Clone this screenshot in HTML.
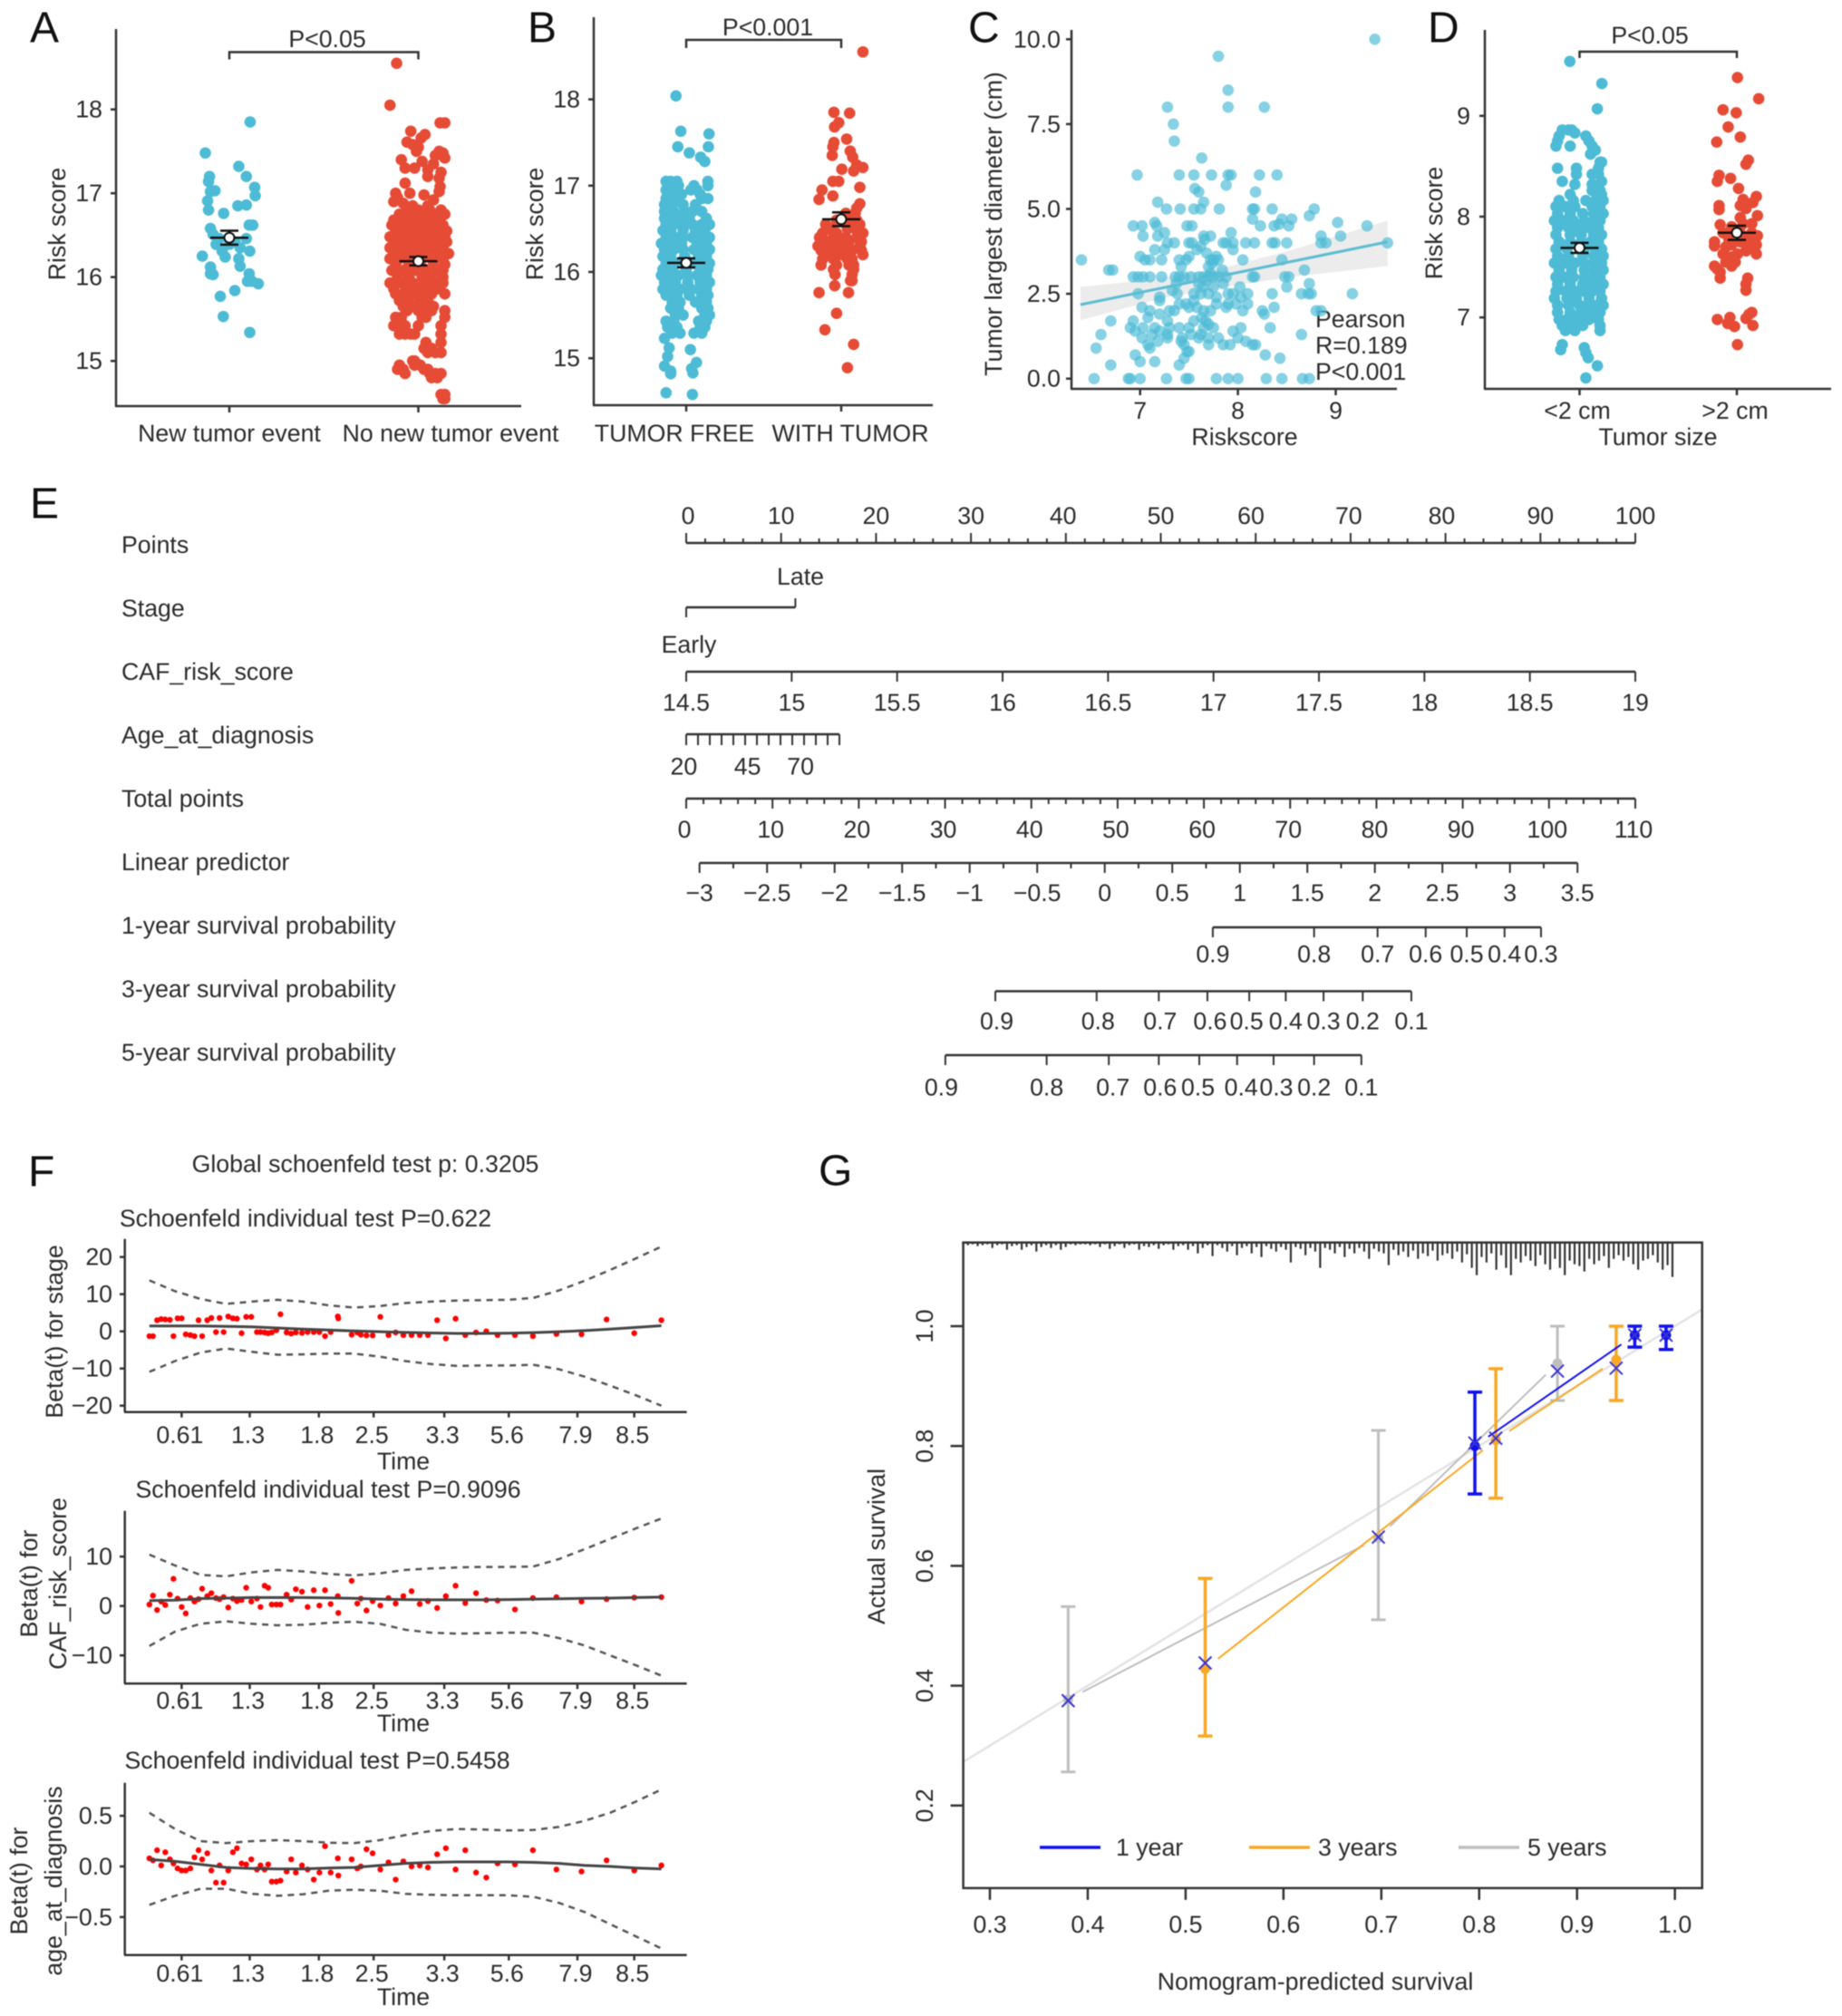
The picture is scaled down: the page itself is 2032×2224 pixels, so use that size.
<!DOCTYPE html>
<html lang="en">
<head>
<meta charset="utf-8">
<title>Risk score figure panels A-G</title>
<style>
html,body{margin:0;padding:0;background:#fff;}
#figure{display:block;width:2032px;height:2224px;filter:blur(0.55px);}
text{font-family:"Liberation Sans",Arial,sans-serif;font-size:26.7px;fill:#2b2b2b;dominant-baseline:central;text-rendering:geometricPrecision;}
.mid{text-anchor:middle;}
.end{text-anchor:end;}
.panel{font-size:48px;fill:#111;}
</style>
</head>
<body>
<svg id="figure" width="2032" height="2224" viewBox="0 0 2032 2224">
<rect x="0" y="0" width="2032" height="2224" fill="#fff"/>
<text class="panel" x="33" y="31">A</text>
<text class="panel" x="582" y="31">B</text>
<text class="panel" x="1068" y="31">C</text>
<text class="panel" x="1575" y="31">D</text>
<text class="panel" x="33" y="556">E</text>
<text class="panel" x="31" y="1293">F</text>
<text class="panel" x="903" y="1292">G</text>

<text class="mid" transform="rotate(-90 63 247)" x="63" y="247">Risk score</text>
<text class="mid" x="361" y="43">P&lt;0.05</text>
<text class="mid" x="253" y="478">New tumor event</text>
<text class="mid" x="497" y="478">No new tumor event</text>

<text class="mid" transform="rotate(-90 590 247)" x="590" y="247">Risk score</text>
<text class="mid" x="847" y="30">P&lt;0.001</text>
<text class="mid" x="744" y="478">TUMOR FREE</text>
<text class="mid" x="938" y="478">WITH TUMOR</text>

<text class="mid" transform="rotate(-90 1096 247)" x="1096" y="247">Tumor largest diameter (cm)</text>
<text class="mid" x="1373" y="482">Riskscore</text>
<text x="1451" y="352">Pearson</text>
<text x="1451" y="381">R=0.189</text>
<text x="1451" y="410">P&lt;0.001</text>

<text class="mid" transform="rotate(-90 1582 246)" x="1582" y="246">Risk score</text>
<text class="mid" x="1820" y="39">P&lt;0.05</text>
<text class="mid" x="1740" y="453">&lt;2 cm</text>
<text class="mid" x="1914" y="453">&gt;2 cm</text>
<text class="mid" x="1829" y="482">Tumor size</text>

<text x="134" y="601">Points</text>
<text x="134" y="671">Stage</text>
<text x="134" y="741">CAF_risk_score</text>
<text x="134" y="811">Age_at_diagnosis</text>
<text x="134" y="881">Total points</text>
<text x="134" y="951">Linear predictor</text>
<text x="134" y="1021">1-year survival probability</text>
<text x="134" y="1091">3-year survival probability</text>
<text x="134" y="1161">5-year survival probability</text>
<text class="mid" x="883" y="636">Late</text>
<text class="mid" x="760" y="711">Early</text>

<text class="mid" x="403" y="1284">Global schoenfeld test p: 0.3205</text>
<text class="mid" x="337" y="1344">Schoenfeld individual test P=0.622</text>
<text class="mid" x="362" y="1643">Schoenfeld individual test P=0.9096</text>
<text class="mid" x="350" y="1942">Schoenfeld individual test P=0.5458</text>
<text class="mid" x="445" y="1612">Time</text>
<text class="mid" x="445" y="1901">Time</text>
<text class="mid" x="445" y="2203">Time</text>
<text class="mid" transform="rotate(-90 60 1469)" x="60" y="1469">Beta(t) for stage</text>
<text class="mid" transform="rotate(-90 32 1747)" x="32" y="1747">Beta(t) for</text>
<text class="mid" transform="rotate(-90 64 1747)" x="64" y="1747">CAF_risk_score</text>
<text class="mid" transform="rotate(-90 21 2075)" x="21" y="2075">Beta(t) for</text>
<text class="mid" transform="rotate(-90 59 2075)" x="59" y="2075">age_at_diagnosis</text>

<text class="mid" transform="rotate(-90 967 1706)" x="967" y="1706">Actual survival</text>
<text class="mid" x="1451" y="2186">Nomogram-predicted survival</text>
<text x="1231" y="2038">1 year</text>
<text x="1454" y="2038">3 years</text>
<text x="1685" y="2038">5 years</text>
<g id="marks"></g>
</svg>

<script>
const BLUE='#4DBBD5', RED='#E64B35', INK='#333333';

/* ---------- Panel A data ---------- */
const aNewValues=[17.85,17.48,17.32,17.2,17.14,17.2,17.07,17.03,17.02,16.97,
16.91,16.86,16.85,16.8,16.76,16.58,16.62,16.62,16.51,16.46,
16.46,16.35,16.31,16.25,16.24,16.22,16.13,16.12,16.04,16.03,
16.04,15.95,15.95,15.92,15.84,15.77,15.53,15.34,16.39,16.39,16.42,16.31];
const aNewJitter=[.11,-.127,.05,-.105,-.11,.09,.134,-.076,-.1,.137,
-.115,.09,.045,-.11,-.03,-.1,.124,.105,-.086,-.054,
.09,.057,.108,-.143,-.022,.05,.057,-.1,-.1,-.086,
.105,.12,.096,.153,.029,-.048,-.032,.108,0,-.07,.03,-.038];
const aNoValues=[18.55,18.05,17.84,17.84,17.74,17.7,17.66,17.61,17.58,17.55,
17.5,17.5,17.48,17.45,17.42,17.4,17.38,17.35,17.3,17.3,
17.28,17.25,17.2,17.18,17.12,17.08,17.02,17.0,17.0,16.98,
16.95,16.92,16.9,16.88,16.85,16.85,
16.8,16.8,16.8,16.8,
16.75,16.75,16.75,16.75,16.75,
16.68,16.68,16.68,16.68,16.68,
16.62,16.62,16.62,16.62,16.62,16.62,
16.55,16.55,16.55,16.55,16.55,16.55,
16.48,16.48,16.48,16.48,16.48,16.48,
16.42,16.42,16.42,16.42,16.42,16.42,
16.35,16.35,16.35,16.35,16.35,16.35,
16.28,16.28,16.28,16.28,16.28,16.28,
16.22,16.22,16.22,16.22,16.22,16.22,
16.15,16.15,16.15,16.15,16.15,
16.08,16.08,16.08,16.08,16.08,16.08,
16.0,16.0,16.0,16.0,16.0,
15.93,15.93,15.93,15.93,15.93,15.93,
15.86,15.86,15.86,15.86,15.86,
15.8,15.8,15.8,15.8,15.8,15.8,
15.72,15.72,15.72,15.72,
15.65,15.65,15.65,15.65,
15.6,15.6,15.6,15.6,
15.52,15.52,15.52,15.52,15.52,
15.42,15.42,15.42,15.42,15.42,
15.32,15.32,15.32,15.32,15.32,
15.22,15.22,15.15,15.15,15.1,15.1,15.1,15.0,15.0,
14.95,14.95,14.95,14.9,14.9,14.9,14.9,
14.85,14.85,14.85,14.85,14.8,14.8,14.6,14.6,14.55,14.55];
const aNoJitter=[-.115,-.15,.14,.115,-.04,.035,.015,-.06,-.03,0,
-.01,.11,.13,.09,.14,-.09,.02,.08,-.07,-.02,
.05,.12,.05,.11,-.07,.115,.11,-.12,-.045,.03,
-.11,.08,-.13,-.08,-.03,.05,
-.06,0,.06,.12,
-.1,-.03,.03,.09,.14,
-.13,-.07,-.01,.05,.11,
-.14,-.09,-.04,.02,.08,.13,
-.12,-.06,0,.06,.11,.15,
-.15,-.1,-.03,.03,.09,.14,
-.12,-.06,-.01,.05,.1,.15,
-.15,-.09,-.03,.03,.08,.13,
-.13,-.07,-.01,.06,.11,.16,
-.15,-.1,-.04,.02,.07,.13,
-.12,-.05,.01,.08,.14,
-.14,-.08,-.02,.04,.1,.13,
-.11,-.05,.02,.07,.13,
-.15,-.09,-.03,.03,.09,.13,
-.13,-.06,0,.06,.1,
-.12,-.08,-.03,.03,.07,.14,
-.1,-.05,.01,.05,
-.08,-.03,.03,.08,
0,-.06,.14,.07,
-.12,-.09,.04,.02,.14,
-.13,-.1,-.07,0,.12,
-.1,-.07,-.04,-.02,.12,
.12,.04,.03,.07,.05,.12,.09,-.03,-.02,
-.1,-.02,.01,-.11,-.08,.03,.05,
-.07,.06,.12,.09,.07,.1,.12,.14,.13,.14];
const aMeans=[16.47,16.19];
const aErrors=[.083,.05];
const aTicks=[15,16,17,18];

/* ---------- Panel B data ---------- */
const bFreeValues=[18.04,17.63,17.6,17.45,17.45,17.38,17.33,17.28,
17.05,17.05,17.05,17.05,
17.0,17.0,17.0,17.0,17.0,
16.95,16.95,16.95,16.95,
16.9,16.9,16.9,
16.85,16.85,16.85,16.85,
16.78,16.78,16.78,16.78,
16.7,16.7,16.7,16.7,16.7,
16.62,16.62,16.62,16.62,16.62,
16.55,16.55,16.55,16.55,16.55,16.55,
16.48,16.48,16.48,16.48,16.48,
16.4,16.4,16.4,16.4,16.4,16.4,
16.33,16.33,16.33,16.33,16.33,
16.26,16.26,16.26,16.26,16.26,16.26,
16.18,16.18,16.18,16.18,16.18,
16.1,16.1,16.1,16.1,16.1,16.1,
16.03,16.03,16.03,16.03,16.03,
15.96,15.96,15.96,15.96,15.96,15.96,
15.88,15.88,15.88,15.88,15.88,
15.8,15.8,15.8,15.8,15.8,15.8,
15.73,15.73,15.73,15.73,15.73,
15.65,15.65,15.65,15.65,
15.58,15.58,15.58,15.58,
15.5,15.5,15.5,15.5,
15.43,15.43,15.43,15.43,
15.36,15.36,15.36,15.36,
15.29,15.29,15.29,15.29,
15.23,15.12,15.1,15.02,14.95,14.91,14.88,14.85,14.83,14.82,14.6,14.58];
const bFreeJitter=[-.066,-.035,.147,-.054,.143,.02,.093,.12,
-.13,-.1,-.06,.14,
-.12,-.09,-.05,.05,.14,
-.13,-.08,.03,.07,
-.12,-.03,.09,
-.13,-.06,.1,.14,
-.14,-.09,-.02,.06,
-.14,-.08,-.01,.04,.1,
-.14,-.09,-.04,.02,.13,
-.13,-.08,-.02,.04,.1,.15,
-.15,-.1,-.02,.06,.12,
-.13,-.07,-.02,.04,.09,.15,
-.16,-.1,-.03,.07,.13,
-.14,-.08,-.02,.05,.11,.15,
-.15,-.1,-.01,.08,.13,
-.13,-.07,-.01,.05,.1,.15,
-.15,-.09,.0,.09,.14,
-.16,-.11,-.05,.01,.07,.13,
-.14,-.07,.01,.09,.15,
-.15,-.1,-.04,.03,.08,.13,
-.13,-.06,.02,.1,.14,
-.09,-.04,.06,.13,
-.1,-.05,.1,.14,
-.07,-.02,.12,.15,
-.13,-.08,.08,.13,
-.12,-.06,.09,.12,
-.09,-.04,.05,.1,
-.14,-.11,.027,-.12,.066,-.14,.035,-.1,.043,-.1,-.13,.04];
const bWithValues=[18.55,17.85,17.84,17.73,17.68,17.54,17.5,17.45,17.4,17.35,
17.33,17.24,17.21,17.17,17.19,17.05,17.05,16.98,16.95,16.84,
16.88,16.79,16.74,
16.68,16.68,
16.6,16.6,16.6,16.58,
16.55,16.55,
16.5,16.5,16.5,
16.45,16.45,16.45,
16.4,16.4,16.4,16.4,
16.35,16.35,16.35,16.35,16.35,
16.3,16.3,16.3,16.3,16.3,
16.25,16.25,16.25,16.25,16.25,
16.2,16.2,16.2,16.2,
16.15,16.15,16.15,16.15,
16.08,16.08,16.08,16.08,
16.03,16.03,15.97,15.97,15.9,15.9,
15.84,15.76,15.76,15.52,15.33,15.16,14.89];
const bWithJitter=[.14,-.047,.054,-.016,-.043,.035,-.047,-.054,.058,-.058,
.074,.1,.14,.08,.004,-.054,-.016,.12,-.124,-.143,
-.054,.12,.1,
.03,.09,
-.03,.06,.1,.01,
-.1,.12,
-.07,.04,.09,
.14,-.12,-.03,
-.05,.03,.1,-.14,
-.12,-.08,0,.05,.13,
-.15,-.1,-.03,.03,.12,
-.13,-.07,.07,.13,-.02,
-.09,0,.05,.14,
-.12,-.05,.04,.07,
-.13,-.03,.05,.08,
-.05,.08,-.04,.07,.07,.06,
-.042,-.143,.047,-.03,-.105,.08,.04];
const bMeans=[16.105,16.61];
const bErrors=[.052,.08];
const bTicks=[15,16,17,18];

/* ---------- Panel C data ---------- */
const cRiskscore=[9.4,7.8,7.9,7.28,7.9,8.27,7.34,7.35,7.63,6.97,7.4,7.55,7.73,7.9,7.93,8.22,8.4,7.88,7.56,7.6,8.18,7.65,7.62,7.18,7.27,7.41,7.55,7.81,8.15,8.17,8.35,8.78,8.73,8.15,8.45,8.55,
6.93,7.02,7.15,7.17,7.48,7.53,8.23,8.37,8.42,8.52,9.02,9.32,
7.03,7.18,7.25,7.65,7.72,7.93,8.85,9.05,
7.28,7.35,7.5,7.53,7.85,7.88,7.95,8.08,8.17,8.35,8.38,8.5,8.85,8.9,9.53,
7,7.05,7.1,7.15,7.22,7.25,7.4,7.5,7.68,7.72,7.75,7.8,7.95,8.05,8.45,6.4,
6.72,6.68,6.93,6.98,7.03,7.1,7.22,7.36,7.4,7.45,7.52,7.6,7.65,7.7,7.75,7.8,7.88,8.15,8.17,8.48,8.52,8.68,
6.98,7.2,7.38,7.55,7.62,7.7,7.78,7.9,7.95,8.03,8.1,8.35,8.65,8.72,8.75,8.73,9.17,8.5,
7.02,7.1,7.2,7.3,7.35,7.4,7.5,7.65,7.72,7.78,8.05,8.25,8.37,8.8,8.85,8.27,
6.7,6.9,6.93,7.03,7.15,7.2,7.3,7.4,7.5,7.65,7.75,7.95,8.03,8.33,
7.02,7.08,7.1,7.28,7.43,7.45,7.5,7.6,7.7,7.7,7.85,7.92,8.0,8.15,8.18,8.08,8.65,6.6,6.55,
6.95,7.0,7.15,7.4,7.45,7.48,6.7,8.28,8.43,
6.53,6.88,6.9,7.0,7.27,7.47,7.5,7.78,7.9,8.0,8.29,8.45,8.66,8.73,
7.42,7.47,7.58,7.62,7.66,7.7,7.74,7.78,7.84,7.6,7.64,7.68,7.72,7.55,7.47,7.37,7.33,7.58,7.63,7.67,
7.75,7.85,7.9,7.98,8.02,8.1,7.52,7.42,7.28,7.2,7.12,7.18,7.08,6.95,7.55,7.62,7.7,7.8,7.88,7.28];
const cDiameter=[10,9.5,8.5,8,8,8,7.5,7,6.5,6,6,6,6,6,6,6,6,5.7,5.6,5.5,5.5,5.2,5,5.2,5,5,5,5,5,5,5,5,4.8,4.7,4.7,4.7,
4.5,4.5,4.6,4.5,4.5,4.5,4.5,4.5,4.55,4.5,4.6,4.5,
4.2,4.2,4.3,4.2,4.2,4.3,4.2,4.2,
4,4,4,4,4,4,4,4,4,4,4,4,4,4,4,
3.6,3.5,3.5,3.8,3.5,3.8,3.5,3.6,3.7,3.5,3.5,3.5,3.8,3.5,3.5,3.5,
3.2,3.2,3,3,3,3,3,3,3,3,3,3,3,3,3,3,3,3,3,3,3,3.2,
2.5,2.4,2.5,2.5,2.5,2.5,2.4,2.5,2.5,2.4,2.5,2.5,2.5,2.5,2.5,2.8,2.5,2.7,
2.1,2,1.9,2,2,2.2,2.1,2,2,2.2,2,2,2.1,2,2,1.9,
1.7,1.5,1.7,1.5,1.5,1.4,1.5,1.5,1.5,1.5,1.5,1.4,1.5,1.5,
1.2,1,.9,1.2,1.2,1,.8,1.2,1,1.2,1,1,1.2,1,1,1.1,1.3,1.3,.9,
.7,.5,.5,.4,.6,.8,.4,.7,.6,
0,0,0,0,0,0,0,0,0,0,0,0,0,0,
3.3,3.5,3.8,3.9,4.1,3.3,3.4,3.6,3.2,2.8,2.7,2.9,3.1,2.3,2.2,2.8,2.6,2.1,1.8,1.7,
2.7,2.8,2.2,2.2,2.7,2.2,1.3,1.1,1.7,2.3,1.3,1.1,1.8,1.4,1.7,1.3,1.6,1.2,2.1,1.3];
const cFitX=[6.39,9.53];
const cFitY=[2.18,4.03];
const cBandX=[6.39,7.2,7.9,8.5,9.53];
const cBandUpper=[2.7,2.95,3.3,3.75,4.66];
const cBandLower=[1.72,2.35,2.72,2.98,3.32];
const cYTicks=[0,2.5,5,7.5,10];
const cYLabels=['0.0','2.5','5.0','7.5','10.0'];
const cXTicks=[7,8,9];

/* ---------- Panel D data ---------- */
const dSmallValues=[9.54,9.32,9.07,8.86,8.86,8.86,8.83,8.8,8.8,8.75,8.75,8.7,8.7,8.7,8.66,8.66,8.62,8.54,8.54,
8.48,8.48,8.48,8.42,8.42,8.42,8.35,8.35,8.32,8.32,8.26,8.26,8.22,8.22,
8.16,8.16,8.16,8.16,8.16,
8.1,8.1,8.1,8.1,8.1,
8.03,8.03,8.03,8.03,8.03,
7.96,7.96,7.96,7.96,7.96,7.96,
7.89,7.89,7.89,7.89,7.89,
7.82,7.82,7.82,7.82,7.82,
7.75,7.75,7.75,7.75,7.75,
7.68,7.68,7.68,7.68,7.68,
7.61,7.61,7.61,7.61,7.61,
7.54,7.54,7.54,7.54,7.54,7.54,
7.47,7.47,7.47,7.47,7.47,
7.4,7.4,7.4,7.4,7.4,7.4,
7.33,7.33,7.33,7.33,7.33,
7.26,7.26,7.26,7.26,7.26,7.26,
7.19,7.19,7.19,7.19,7.19,
7.12,7.12,7.12,7.12,7.12,7.12,
7.05,7.05,7.05,7.05,7.05,
6.98,6.98,6.98,6.98,6.98,
6.92,6.92,6.92,6.92,
6.87,6.87,6.87,
6.73,6.68,6.7,6.65,6.6,6.52,6.4];
const dSmallJitter=[-.062,.142,.113,-.11,-.07,-.05,-.03,.04,-.13,.06,-.14,-.06,-.15,.08,.09,.1,.07,.13,.14,
.12,-.14,-.02,-.02,.08,.12,-.11,.14,-.03,.08,.08,.13,-.06,.14,
-.13,-.04,.04,.1,.15,
-.15,-.09,-.03,.08,.13,
-.14,-.06,.02,.09,.15,
-.16,-.1,-.04,.03,.09,.13,
-.14,-.07,-.01,.06,.12,
-.15,-.06,.01,.09,.14,
-.13,-.06,.01,.07,.12,
-.15,-.08,.03,.1,.14,
-.14,-.07,.02,.09,.15,
-.16,-.09,-.03,.03,.09,.14,
-.13,-.05,.03,.09,.15,
-.15,-.1,-.04,.03,.09,.13,
-.14,-.06,.02,.08,.15,
-.15,-.09,-.03,.03,.08,.13,
-.16,-.08,-.02,.06,.14,
-.14,-.07,0,.05,.11,.15,
-.14,-.06,.01,.08,.13,
-.13,-.08,-.01,.06,.12,
-.11,-.05,.02,.13,
-.09,-.03,.13,
-.11,-.12,.03,.04,.055,.113,.04];
const dLargeValues=[9.38,9.17,9.06,9.03,8.89,8.79,8.74,8.56,8.52,8.41,
8.35,8.38,8.28,8.2,8.14,8.17,8.11,8.11,8.07,8.01,
8.08,7.99,7.92,7.9,7.93,7.71,7.75,7.84,7.81,7.84,
7.78,7.75,7.72,7.72,7.63,7.66,7.6,7.63,7.63,7.51,
7.48,7.51,7.45,7.39,7.39,7.33,7.27,6.98,7.0,6.94,
6.91,7.03,7.05,6.99,6.92,6.73,7.93,7.78,7.72,7.7,
7.84,7.68,7.55,7.55];
const dLargeJitter=[.004,.139,-.088,-.004,-.055,.022,-.128,.073,.058,-.113,
-.124,-.04,.011,.124,.102,.04,.022,-.113,-.113,.131,
.058,.022,-.106,-.033,.04,-.142,-.142,.095,.131,-.088,
-.051,.022,.058,.124,.124,.058,-.033,.004,-.088,-.142,
-.124,-.033,-.106,-.106,.069,.058,.058,-.124,-.044,-.058,
-.015,.077,.095,.058,.102,.004,.095,.077,-.033,-.07,
.022,.1,-.01,-.07];
const dMeans=[7.69,7.84];
const dErrors=[.05,.07];
const dTicks=[7,8,9];

/* ---------- Panel E data ---------- */
const pointsMajor=[0,10,20,30,40,50,60,70,80,90,100];
const pointsLabelAnchor=[0.2,10,20,30,39.7,50,59.5,69.8,79.6,90,100];
const stagePoints=[0,11.5];
const cafTicks=[14.5,15,15.5,16,16.5,17,17.5,18,18.5,19];
const ageTicks=[20,25,30,35,40,45,50,55,60,65,70,75,80,85];
const ageLabels=[20,45,70];
const ageLabelAnchor=[19,46,68.5];
const totalMajor=[0,10,20,30,40,50,60,70,80,90,100,110];
const lpMajor=[-3,-2.5,-2,-1.5,-1,-0.5,0,0.5,1,1.5,2,2.5,3,3.5];
const surv1Probs=['0.9','0.8','0.7','0.6','0.5','0.4','0.3'];
const surv1Lp=[0.80,1.55,2.02,2.376,2.68,2.96,3.23];
const surv3Probs=['0.9','0.8','0.7','0.6','0.5','0.4','0.3','0.2','0.1'];
const surv3Lp=[-0.81,-0.06,0.40,0.76,1.07,1.34,1.62,1.91,2.27];
const surv3LabelLp=[-0.80,-0.05,0.41,0.78,1.05,1.34,1.62,1.91,2.27];
const surv5Probs=['0.9','0.8','0.7','0.6','0.5','0.4','0.3','0.2','0.1'];
const surv5Lp=[-1.18,-0.43,0.03,0.40,0.70,0.98,1.25,1.55,1.90];
const surv5LabelLp=[-1.21,-0.43,0.06,0.41,0.69,1.01,1.27,1.55,1.90];

/* ---------- Panel F data ---------- */
const timeTickRanks=[6.3,19.6,33.1,43.8,57.6,70.2,83.6,94.7];
const timeTickLabels=['0.61','1.3','1.8','2.5','3.3','5.6','7.9','8.5'];
const eventRanks=[0,.7,1.5,2.3,3.1,4,4.7,5.5,6.3,7.1,
8,8.8,9.6,10.3,11.3,12.1,13,13.7,14.5,15.4,
16.3,17.1,18,18.9,19.9,21,21.7,22.5,23.2,23.9,
24.8,25.6,26.8,27.7,28.6,29.8,30.9,32.1,33.2,34.3,
35.4,36.8,36.9,39.5,40.6,41.3,42.4,43.6,45.1,46.7,
48.1,49.6,51.2,52.8,54.4,56.2,57.9,59.8,61.7,63.8,
65.8,68,71.4,74.9,79.5,84.4,89.3,94.7,100];
const stageResiduals=[-1.3,-1.3,3,3.3,3.2,3.1,-1.3,3.5,3.5,-.8,
-1,-1.3,3,-1.3,3,3.6,-.2,3.6,-.2,4,
3.5,3.4,-.5,3.9,3.9,-.2,-.2,-.3,-.5,-.3,
.3,4.6,-.3,-.6,-.3,-.4,-.2,-.2,-.2,-1.3,
-.2,4,3.5,-.9,-.3,-.9,-1.1,-1.1,3.9,-1,
-.3,-1,-1,-1,-1,3,-1.9,3.4,-1,-.3,
0,-1,-1,-1.3,-.7,-.8,3.2,-.5,3];
const cafResiduals=[.3,2.1,-.8,.9,.2,2.3,5.5,1.5,-.2,-1.5,
1.6,.9,1.4,3.5,2,2.6,1.6,1.4,1.8,-.3,
1.5,1,1.2,3.7,.9,1.5,-.2,4.1,3.7,.3,
.3,.3,2.3,1.3,3.4,2.9,-.2,3.2,.1,3.2,
.4,2,-1.4,5.1,.5,1.5,-.9,1,.1,1.6,
.5,2,3,.4,1,-.4,2,4.1,.6,2.6,
1.2,1.1,-.7,1.6,1.8,.9,1.4,1.7,1.8];
const ageResiduals=[.08,.06,.16,.01,.14,.07,.03,-.02,-.04,-.04,
-.02,.09,.16,.07,.13,-.04,-.16,.01,-.16,-.04,
.14,.18,.03,.02,.07,-.03,.01,-.03,.02,-.15,
-.15,-.14,-.05,.07,-.06,.01,-.03,-.13,-.06,.2,
-.06,.08,-.09,.07,-.02,0,.17,.13,-.03,.04,
-.13,.05,0,.01,-.01,.12,.18,-.03,.16,-.06,
-.11,.03,.02,.16,-.03,-.05,.06,-.04,.01];
const curveRanks=[0,5,10,15,20,25,30,35,40,45,50,55,60,65,70,75,80,85,90,95,100];
const stageFit=[1.45,1.45,1.45,1.35,1.2,.9,.6,.35,.1,-.1,-.3,-.45,-.55,-.55,-.5,-.35,-.1,.2,.6,1.05,1.5];
const stageUpper=[13.7,10.8,8.7,7.4,8,8.5,8,7,6.4,6.8,7.6,8,8.3,8.4,8.5,9,11,13.6,16.5,19.6,22.8];
const stageLower=[-10.9,-8,-5.7,-4.6,-5.5,-6.3,-6.2,-6,-6,-6.8,-8,-8.8,-9.3,-9.2,-9.2,-9,-10.2,-12.2,-14.6,-17.2,-20];
const cafFit=[1.1,1.2,1.5,1.6,1.7,1.7,1.7,1.65,1.55,1.4,1.3,1.25,1.25,1.25,1.3,1.4,1.45,1.55,1.6,1.7,1.8];
const cafUpper=[10.4,8.2,6.3,6,6.8,7.3,7,6.5,6.2,6.6,7.3,7.6,7.8,7.9,7.9,8,9.5,11.5,13.6,15.7,17.7];
const cafLower=[-8.1,-5.2,-3.6,-3.1,-3.6,-3.9,-3.8,-3.4,-3.2,-3.6,-4.8,-5.4,-5.6,-5.5,-5.4,-5.4,-6.5,-8,-10,-12,-14.1];
const ageFit=[.07,.05,.02,-.01,-.02,-.025,-.025,-.015,-.01,.01,.03,.04,.045,.045,.045,.04,.03,.01,0,-.015,-.025];
const ageUpper=[.53,.37,.25,.23,.25,.26,.25,.235,.23,.26,.31,.35,.37,.365,.355,.36,.39,.45,.53,.64,.76];
const ageLower=[-.38,-.29,-.22,-.22,-.27,-.29,-.275,-.24,-.23,-.24,-.27,-.28,-.285,-.285,-.285,-.3,-.36,-.45,-.57,-.69,-.81];
const stageYTicks=[-20,-10,0,10,20];
const cafYTicks=[-10,0,10];
const ageYTicks=[-0.5,0,0.5];
const ageYLabels=['\u22120.5','0.0','0.5'];

/* ---------- Panel G data ---------- */
const calXTicks=[.3,.4,.5,.6,.7,.8,.9,1];
const calXLabels=['0.3','0.4','0.5','0.6','0.7','0.8','0.9','1.0'];
const calYTicks=[.2,.4,.6,.8,1];
const calYLabels=['0.2','0.4','0.6','0.8','1.0'];
const year1Pred=[.7956,.959,.991];
const year1Obs=[.8,.985,.985];
const year1Low=[.72,.965,.961];
const year1High=[.89,1,1];
const year3Pred=[.52,.817,.94];
const year3Obs=[.428,.81,.944];
const year3Low=[.316,.713,.876];
const year3High=[.579,.929,1];
const year5Pred=[.38,.697,.88];
const year5Obs=[.377,.647,.938];
const year5Low=[.256,.51,.876];
const year5High=[.532,.826,1];
const correctedPred=[.38,.52,.697,.7956,.817,.88,.94,.959,.991];
const correctedObs=[.375,.438,.648,.805,.813,.925,.93,.985,.985];
const rugCounts=[2,3,2,4,3,2,6,3,2,8,4,3,8,5,3,10,5,3,6,3,8,5,2,3,2,2,
3,2,5,2,7,4,2,6,3,2,8,4,5,3,7,3,2,8,4,3,
8,4,12,6,3,15,3,6,10,4,14,6,4,12,5,16,4,7,10,5,
8,22,5,7,14,6,10,28,6,8,12,5,16,7,12,6,10,18,7,10,
12,25,8,14,10,16,9,18,12,15,9,20,14,12,18,10,22,13,28,36,
16,22,12,30,14,28,36,18,22,15,20,26,14,24,30,18,28,36,20,24,
26,32,18,24,20,15,28,18,14,20,16,24,30,20,18,14,22,30,25,38];

/* ---------- Drawing helpers ---------- */
const root=document.getElementById('marks');
const SVGNS=document.getElementById('figure').namespaceURI;

function make(tag,attrs,name){
  const el=document.createElementNS(SVGNS,tag);
  for(const k in attrs){ el.setAttribute(k,attrs[k]); }
  
  
  root.appendChild(el);
  return el;
}
function line(x1,y1,x2,y2,name,color,w){
  return make('line',{x1:x1,y1:y1,x2:x2,y2:y2,stroke:color||INK,'stroke-width':w||2.5},name);
}
function label(x,y,str,name,anchor,rot){
  const a={x:x,y:y,'text-anchor':anchor||'middle'};
  if(rot){ a.transform='rotate(-90 '+x+' '+y+')'; }
  const el=make('text',a,name);
  el.textContent=str;
  return el;
}
function dot(x,y,r,color,name,opacity){
  const a={cx:x,cy:y,r:r,fill:color};
  if(opacity){ a['fill-opacity']=opacity; }
  return make('circle',a,name);
}
function polyPath(xs,ys,xf,yf,name,color,w,dash){
  let d='';
  for(let i=0;i<xs.length;i++){ d+=(i?'L':'M')+xf(xs[i]).toFixed(1)+' '+yf(ys[i]).toFixed(1); }
  const a={d:d,fill:'none',stroke:color,'stroke-width':w,'stroke-linejoin':'round'};
  if(dash){ a['stroke-dasharray']=dash; }
  return make('path',a,name);
}

/* ---------- Strip panels ---------- */
function stripAxes(prefix,axisX,top,bottom,right,yf,ticks,tickLabelX){
  line(axisX,top,axisX,bottom,prefix+'-y-axis');
  line(axisX-1,bottom,right,bottom,prefix+'-x-axis');
  ticks.forEach(function(t){
    line(axisX-6,yf(t),axisX,yf(t),prefix+'-y-tick');
    label(tickLabelX,yf(t),String(t),prefix+'-y-tick-label','end');
  });
}
function swarm(prefix,values,jitter,center,spacing,yf,color){
  values.forEach(function(v,i){
    dot(center+jitter[i]*spacing,yf(v),6.3,color,prefix+'-point');
  });
}
function meanMark(prefix,center,yf,mean,err){
  line(center-21,yf(mean),center+21,yf(mean),prefix+'-mean-bar','#111',2.5);
  line(center,yf(mean-err),center,yf(mean+err),prefix+'-error-bar','#111',2.5);
  line(center-10,yf(mean-err),center+10,yf(mean-err),prefix+'-error-cap-low','#111',2.5);
  line(center-10,yf(mean+err),center+10,yf(mean+err),prefix+'-error-cap-high','#111',2.5);
  make('circle',{cx:center,cy:yf(mean),r:5.5,fill:'#fff',stroke:'#111','stroke-width':2},prefix+'-mean-point');
}
function bracket(prefix,x1,x2,y,drop){
  make('path',{d:'M'+x1+' '+(y+drop)+'V'+y+'H'+x2+'V'+(y+drop),fill:'none',stroke:INK,'stroke-width':2.5},prefix+'-significance-bracket');
}
function catTicks(prefix,xs,bottom){
  xs.forEach(function(x){ line(x,bottom,x,bottom+7,prefix+'-x-tick'); });
}

/* Panel A */
const aY=function(v){return 305.7-92.5*(v-16);};
stripAxes('panel-a',128,32,448,575,aY,aTicks,113);
catTicks('panel-a',[253,461.5],448);
bracket('panel-a',253,461.5,57.5,8);
swarm('panel-a-new-event',aNewValues,aNewJitter,253,208.5,aY,BLUE);
swarm('panel-a-no-new-event',aNoValues,aNoJitter,461.5,208.5,aY,RED);
meanMark('panel-a-new-event',253,aY,aMeans[0],aErrors[0]);
meanMark('panel-a-no-new-event',461.5,aY,aMeans[1],aErrors[1]);

/* Panel B */
const bY=function(v){return 300-95.2*(v-16);};
stripAxes('panel-b',655,19,447,1029,bY,bTicks,640);
catTicks('panel-b',[757,928],447);
bracket('panel-b',757,928,44,9);
swarm('panel-b-tumor-free',bFreeValues,bFreeJitter,757,171,bY,BLUE);
swarm('panel-b-with-tumor',bWithValues,bWithJitter,928,171,bY,RED);
meanMark('panel-b-tumor-free',757,bY,bMeans[0],bErrors[0]);
meanMark('panel-b-with-tumor',928,bY,bMeans[1],bErrors[1]);

/* Panel C */
const cX=function(v){return 1257.7+107.9*(v-7);};
const cY=function(v){return 417.7-37.44*v;};
line(1182,33,1182,429,'panel-c-y-axis');
line(1181,429,1541,429,'panel-c-x-axis');
cYTicks.forEach(function(t,i){
  line(1176,cY(t),1182,cY(t),'panel-c-y-tick');
  label(1170,cY(t),cYLabels[i],'panel-c-y-tick-label','end');
});
cXTicks.forEach(function(t){
  line(cX(t),429,cX(t),436,'panel-c-x-tick');
  label(cX(t),453,String(t),'panel-c-x-tick-label');
});
(function(){
  let d='';
  cBandX.forEach(function(x,i){ d+=(i?'L':'M')+cX(x).toFixed(1)+' '+cY(cBandUpper[i]).toFixed(1); });
  for(let i=cBandX.length-1;i>=0;i--){ d+='L'+cX(cBandX[i]).toFixed(1)+' '+cY(cBandLower[i]).toFixed(1); }
  make('path',{d:d+'Z',fill:'#d9d9d9','fill-opacity':.5},'panel-c-confidence-band');
})();
cRiskscore.forEach(function(x,i){
  dot(cX(x),cY(cDiameter[i]),6.3,BLUE,'panel-c-point',.68);
});
polyPath(cFitX,cFitY,cX,cY,'panel-c-regression-line','#5cbdd3',3);

/* Panel D */
const dY=function(v){return 239-111.2*(v-8);};
stripAxes('panel-d',1638,33,429,2020,dY,dTicks,1622);
catTicks('panel-d',[1742.5,1916],429);
bracket('panel-d',1742.5,1916,57,7);
swarm('panel-d-under-2cm',dSmallValues,dSmallJitter,1742.5,173.5,dY,BLUE);
swarm('panel-d-over-2cm',dLargeValues,dLargeJitter,1916,173.5,dY,RED);
meanMark('panel-d-under-2cm',1742.5,dY,dMeans[0],dErrors[0]);
meanMark('panel-d-over-2cm',1916,dY,dMeans[1],dErrors[1]);

/* ---------- Panel E nomogram ---------- */
const pointsX=function(v){return 757+v*10.47;};
const cafX=function(v){return 757+(v-14.5)*232.67;};
const ageX=function(v){return 757+(v-20)*2.6;};
const totalX=function(v){return 757+v*9.518;};
const lpX=function(v){return 771.7+(v+3)*149;};
const fmtNum=function(v){return String(v).replace('-','\u2212');};

/* Points axis: ticks rise above the line */
line(pointsX(0),599,pointsX(100),599,'points-axis-line',INK,2.5);
for(let p=0;p<=100;p+=2){
  const major=p%10===0;
  line(pointsX(p),599,pointsX(p),major?588:594,'points-axis-tick',INK,2);
}
pointsMajor.forEach(function(v,i){ label(pointsX(pointsLabelAnchor[i]),569,String(v),'points-axis-label'); });

/* Stage */
line(pointsX(stagePoints[0]),670,pointsX(stagePoints[1]),670,'stage-axis-line',INK,2.5);
line(pointsX(stagePoints[0]),670,pointsX(stagePoints[0]),681,'stage-early-tick',INK,2);
line(pointsX(stagePoints[1]),670,pointsX(stagePoints[1]),660,'stage-late-tick',INK,2);

/* CAF risk score */
line(cafX(14.5),741,cafX(19),741,'caf-axis-line',INK,2.5);
cafTicks.forEach(function(v){
  line(cafX(v),741,cafX(v),752,'caf-axis-tick',INK,2);
  label(cafX(v),775,String(v),'caf-axis-label');
});

/* Age */
line(ageX(20),810,ageX(85),810,'age-axis-line',INK,2.5);
ageTicks.forEach(function(v){ line(ageX(v),810,ageX(v),822,'age-axis-tick',INK,2); });
ageLabels.forEach(function(v,i){ label(ageX(ageLabelAnchor[i]),845.5,String(v),'age-axis-label'); });

/* Total points */
line(totalX(0),881,totalX(110),881,'total-points-axis-line',INK,2.5);
for(let p=0;p<=110;p+=2){
  const major=p%10===0;
  line(totalX(p),881,totalX(p),major?892:887,'total-points-axis-tick',INK,2);
}
totalMajor.forEach(function(v){ label(totalX(v)-2,915,String(v),'total-points-axis-label'); });

/* Linear predictor */
line(lpX(-3),952,lpX(3.5),952,'linear-predictor-axis-line',INK,2.5);
for(let p=-3;p<=3.5;p+=0.25){
  const major=Math.abs(p*2-Math.round(p*2))<1e-6;
  line(lpX(p),952,lpX(p),major?963:958,'linear-predictor-axis-tick',INK,2);
}
lpMajor.forEach(function(v){ label(lpX(v),985,fmtNum(v),'linear-predictor-axis-label'); });

/* Survival probability axes */
function survAxis(prefix,lps,labelLps,probs,y,labelY){
  line(lpX(lps[0]),y,lpX(lps[lps.length-1]),y,prefix+'-axis-line',INK,2.5);
  lps.forEach(function(v,i){
    line(lpX(v),y,lpX(v),y+11,prefix+'-axis-tick',INK,2);
    label(lpX(labelLps[i]),labelY,probs[i],prefix+'-axis-label');
  });
}
survAxis('survival-1-year',surv1Lp,surv1Lp,surv1Probs,1023,1052.5);
survAxis('survival-3-year',surv3Lp,surv3LabelLp,surv3Probs,1093.5,1126.5);
survAxis('survival-5-year',surv5Lp,surv5LabelLp,surv5Probs,1164,1199.5);

/* ---------- Panel F Schoenfeld ---------- */
const rankX=function(r){return 164.8+r*5.648;};
function schoenfeld(prefix,top,bottom,labelY,yf,ticks,tickLabels,residuals,fit,upper,lower){
  line(137.7,top,137.7,bottom,prefix+'-y-axis');
  line(137,bottom,757.6,bottom,prefix+'-x-axis');
  ticks.forEach(function(t,i){
    line(132,yf(t),137.7,yf(t),prefix+'-y-tick');
    label(124,yf(t),tickLabels[i],prefix+'-y-tick-label','end');
  });
  timeTickRanks.forEach(function(r,i){
    line(rankX(r),bottom,rankX(r),bottom+6,prefix+'-x-tick');
    label(rankX(r)-2,labelY,timeTickLabels[i],prefix+'-x-tick-label');
  });
  eventRanks.forEach(function(r,i){
    dot(rankX(r),yf(residuals[i]),3.2,'#ff0000',prefix+'-residual');
  });
  polyPath(curveRanks,fit,rankX,yf,prefix+'-fit-line','#454545',3);
  polyPath(curveRanks,upper,rankX,yf,prefix+'-upper-band','#555555',2.5,'7 6');
  polyPath(curveRanks,lower,rankX,yf,prefix+'-lower-band','#555555',2.5,'7 6');
}
const asMinus=function(arr){return arr.map(fmtNum);};
const stageY=function(v){return 1468.7-4.1*v;};
const cafYScale=function(v){return 1771.7-5.45*v;};
const ageYScale=function(v){return 2059-111.7*v;};
schoenfeld('schoenfeld-stage',1366.7,1557.7,1583,stageY,stageYTicks,asMinus(stageYTicks),stageResiduals,stageFit,stageUpper,stageLower);
schoenfeld('schoenfeld-caf',1666.7,1857.3,1876,cafYScale,cafYTicks,asMinus(cafYTicks),cafResiduals,cafFit,cafUpper,cafLower);
schoenfeld('schoenfeld-age',1966.7,2156.7,2177,ageYScale,ageYTicks,ageYLabels,ageResiduals,ageFit,ageUpper,ageLower);

/* ---------- Panel G calibration ---------- */
const calX=function(v){return 1092+(v-.3)*1079.5;};
const calY=function(v){return 1463+(1-v)*661;};
const BOX={l:1062.6,r:1877.7,t:1370.7,b:2082.9};
(function(){
  const a=.272, b=1.028;
  line(calX(a),calY(a),calX(b),calY(b),'calibration-ideal-line','#e3e3e3',2.5);
})();
rugCounts.forEach(function(c,i){
  const x=calX(.2725+i*.005);
  line(x,BOX.t,x,BOX.t+c,'calibration-rug-spike','#333333',2.2);
});
function calSeries(prefix,pred,obs,low,high,color,w){
  for(let i=0;i<pred.length-1;i++){
    const x1=calX(pred[i]),y1=calY(obs[i]),x2=calX(pred[i+1]),y2=calY(obs[i+1]);
    const len=Math.hypot(x2-x1,y2-y1),gap=18;
    if(len>2*gap){
      const ux=(x2-x1)/len,uy=(y2-y1)/len;
      line(x1+ux*gap,y1+uy*gap,x2-ux*gap,y2-uy*gap,prefix+'-line',color,2);
    }
  }
  pred.forEach(function(p,i){
    const x=calX(p);
    line(x,calY(low[i]),x,calY(high[i]),prefix+'-error-bar',color,w);
    line(x-8,calY(low[i]),x+8,calY(low[i]),prefix+'-error-cap-low',color,w);
    line(x-8,calY(high[i]),x+8,calY(high[i]),prefix+'-error-cap-high',color,w);
    dot(x,calY(obs[i]),5.5,color,prefix+'-point');
  });
}
calSeries('calibration-5-years',year5Pred,year5Obs,year5Low,year5High,'#bebebe',3);
calSeries('calibration-3-years',year3Pred,year3Obs,year3Low,year3High,'#f9a825',3.5);
calSeries('calibration-1-year',year1Pred,year1Obs,year1Low,year1High,'#1010ee',3.5);
correctedPred.forEach(function(p,i){
  const x=calX(p),y=calY(correctedObs[i]),s=7;
  make('path',{d:'M'+(x-s)+' '+(y-s)+'L'+(x+s)+' '+(y+s)+'M'+(x-s)+' '+(y+s)+'L'+(x+s)+' '+(y-s),stroke:'#3a35d0','stroke-width':2,fill:'none'},'calibration-corrected-cross');
});
make('rect',{x:BOX.l,y:BOX.t,width:BOX.r-BOX.l,height:BOX.b-BOX.t,fill:'none',stroke:INK,'stroke-width':2.5},'calibration-plot-box');
calXTicks.forEach(function(t,i){
  line(calX(t),BOX.b,calX(t),BOX.b+13,'calibration-x-tick');
  label(calX(t),2123,calXLabels[i],'calibration-x-tick-label');
});
calYTicks.forEach(function(t,i){
  line(BOX.l-14,calY(t),BOX.l,calY(t),'calibration-y-tick');
  label(1020,calY(t),calYLabels[i],'calibration-y-tick-label','middle',true);
});
line(1147,2038,1214,2038,'legend-line-1-year','#1010ee',3.5);
line(1378,2038,1445,2038,'legend-line-3-years','#f9a825',3.5);
line(1609,2038,1676,2038,'legend-line-5-years','#bebebe',3.5);
</script>
</body>
</html>
